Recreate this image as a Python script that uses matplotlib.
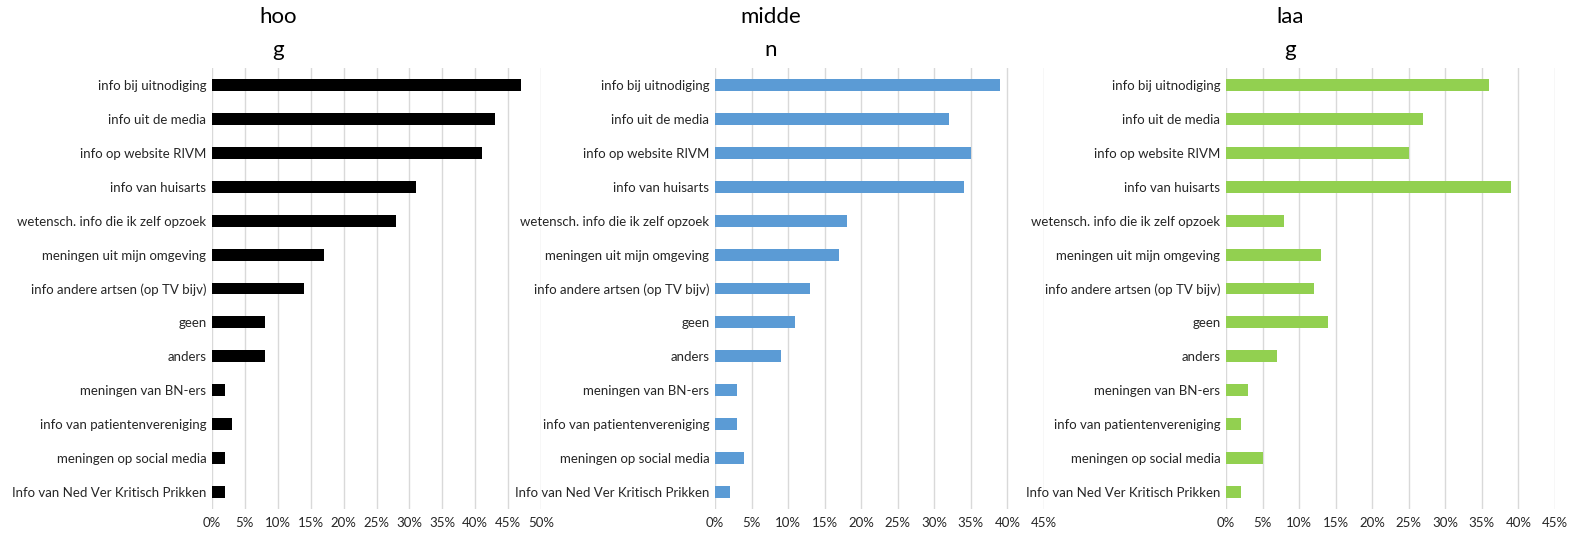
import numpy as np
import matplotlib
matplotlib.use("Agg")
import matplotlib.pyplot as plt

categories = [
    "info bij uitnodiging",
    "info uit de media",
    "info op website RIVM",
    "info van huisarts",
    "wetensch. info die ik zelf opzoek",
    "meningen uit mijn omgeving",
    "info andere artsen (op TV bijv)",
    "geen",
    "anders",
    "meningen van BN-ers",
    "info van patientenvereniging",
    "meningen op social media",
    "Info van Ned Ver Kritisch Prikken",
]

hoog = [47, 43, 41, 31, 28, 17, 14, 8, 8, 2, 3, 2, 2]
midden = [39, 32, 35, 34, 18, 17, 13, 11, 9, 3, 3, 4, 2]
laag = [36, 27, 25, 39, 8, 13, 12, 14, 7, 3, 2, 5, 2]

titles = ["hoo\ng", "midde\nn", "laa\ng"]
xmax = [50, 45, 45]
colors = ["#000000", "#5b9bd5", "#92d050"]

W, H = 1570, 533
fig = plt.figure(figsize=(W / 100, H / 100), dpi=100)
plt.rcParams['font.family'] = ['Lato', 'DejaVu Sans']

# pixel geometry of each panel: (left, right) of plot area, title centre
panels = [(212, 541, 278), (715, 1044, 771), (1226, 1555, 1290)]
top, bottom = 68, 509

for vals, title, xm, col, (x0, x1, tx) in zip([hoog, midden, laag], titles, xmax, colors, panels):
    ax = fig.add_axes([x0 / W, 1 - bottom / H, (x1 - x0) / W, (bottom - top) / H])
    y = np.arange(len(categories))
    ax.barh(y, vals, height=0.35, color=col, zorder=3)
    ax.set_ylim(len(categories) - 0.5, -0.5)
    ax.set_xlim(0, xm)
    ticks = np.arange(0, xm + 1, 5)
    ax.set_xticks(ticks)
    ax.set_xticklabels([f"{t}%" for t in ticks])
    ax.set_yticks(y)
    ax.set_yticklabels(categories)
    ax.tick_params(length=0, labelsize=9.5, colors="#262626", pad=4)
    ax.tick_params(axis="x", pad=6)
    ax.grid(axis="x", color="#d9d9d9", linewidth=1, zorder=0)
    for s in ax.spines.values():
        s.set_visible(False)
    fig.text(tx / W, 1 - 7 / H, title, ha="center", va="top", fontsize=16,
             linespacing=1.8, color="#000000")

fig.savefig("out.png", dpi=100)
